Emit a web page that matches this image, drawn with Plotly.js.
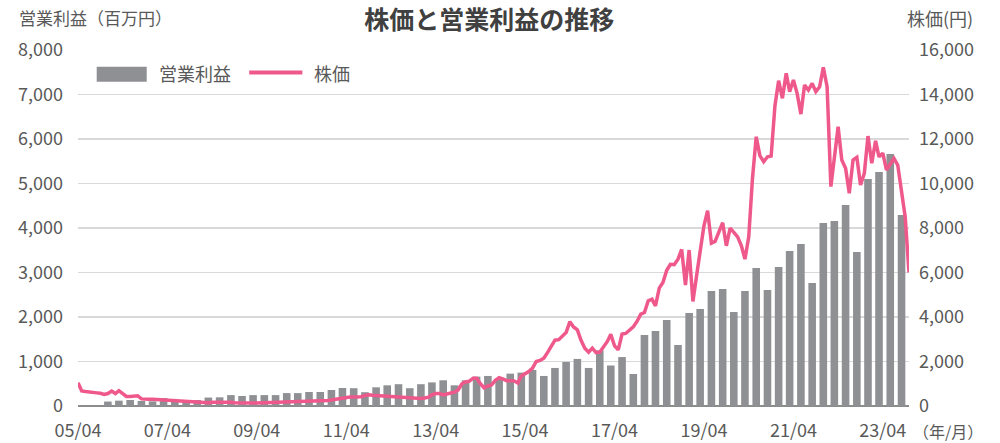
<!DOCTYPE html>
<html>
<head>
<meta charset="utf-8">
<script src="https://cdn.plot.ly/plotly-3.0.1.min.js"></script>
<style>
  html, body { margin: 0; padding: 0; background: #ffffff; }
  #chart { width: 1000px; height: 443px; }
</style>
</head>
<body>
<div id="chart"></div>
<script>
// ---- Data ----
// Quarterly operating profit (百万円), first quarter Dec 2005, last Sep 2023
const profitStart = [2005, 12];
const profitValues = [
  100, 120, 135, 112, 105, 180, 135, 120, 135, 190,
  195, 245, 225, 245, 245, 245, 290, 290, 315, 315,
  360, 405, 400, 310, 420, 465, 490, 400, 490, 530,
  578, 465, 578, 660, 675, 622, 727, 750, 810, 675,
  855, 990, 1058, 855, 1250, 910, 1100, 719, 1596, 1685,
  1933, 1371, 2090, 2180, 2584, 2629, 2112, 2584, 3101, 2607,
  3123, 3483, 3640, 2764, 4112, 4157, 4517, 3461, 5101, 5258,
  5663, 4292
];
// Monthly stock price (円), Apr 2005 .. Nov 2023
const priceStart = [2005, 4];
const priceValues = [
  1047, 674, 650, 640, 610, 590, 570, 520, 560, 674,
  560, 690, 560, 430, 430, 445, 460, 320, 300, 300,
  300, 290, 270, 250, 240, 225, 215, 205, 195, 190,
  180, 180, 170, 165, 160, 150, 170, 175, 180, 175,
  170, 165, 150, 140, 135, 140, 135, 130, 135, 140,
  145, 150, 150, 155, 165, 180, 190, 200, 210, 210,
  215, 220, 230, 225, 220, 230, 240, 250, 270, 300,
  340, 380, 390, 400, 400, 400, 420, 470, 500, 480,
  470, 460, 450, 440, 420, 400, 390, 390, 380, 370,
  350, 340, 340, 360, 400, 500, 560, 560, 500, 540,
  580, 620, 720, 1000, 1080, 1120, 1250, 1250, 1000, 820,
  900, 950, 1150, 1270, 1220, 1140, 1140, 1130, 1030, 1350,
  1450, 1550, 1700, 2000, 2050, 2150, 2400, 2700, 2960, 2980,
  3150, 3300, 3790, 3550, 3420, 2950, 2600, 2420, 2600, 2400,
  2420, 2660, 2900, 3220, 2700, 2520, 3230, 3260, 3420, 3560,
  3800, 4130, 4200, 4730, 4800, 4500, 5300, 5550, 6100, 6370,
  6350, 6600, 7040, 5440, 7010, 4700, 5900, 7000, 8100, 8780,
  7320, 7400, 7800, 8240, 7200, 7990, 7800, 7600, 7200, 6600,
  7600, 10200, 12100, 11250, 10980, 11200, 11230, 13500, 14620, 13830,
  14950, 14130, 14650, 14050, 13120, 14430, 14200, 14500, 14130, 14350,
  15220, 14350, 9860, 11060, 12550, 11060, 10680, 9560, 11060, 11180,
  9930, 10460, 12130, 10910, 11920, 11200, 11360, 10610, 10900, 11130,
  10830, 9700, 8500, 6000
];
const tickDates = ['2005-04-01','2007-04-01','2009-04-01','2011-04-01','2013-04-01',
                   '2015-04-01','2017-04-01','2019-04-01','2021-04-01','2023-04-01'];
const tickLabels = ['05/04','07/04','09/04','11/04','13/04','15/04','17/04','19/04','21/04','23/04'];
const seriesNames = ['営業利益', '株価'];

// ---- Build date categories ----
function monthDates(start, count, step) {
  const out = [];
  let y = start[0], m = start[1];
  for (let i = 0; i < count; i++) {
    out.push(y + '-' + String(m).padStart(2, '0') + '-01');
    m += step;
    while (m > 12) { m -= 12; y += 1; }
  }
  return out;
}
const profitDates = monthDates(profitStart, profitValues.length, 3);
const priceDates = monthDates(priceStart, priceValues.length, 1);

const FONT = '"Noto Sans CJK JP", "Noto Sans", sans-serif';
const TXT = '#595959';
const BAR = '#8f9094';
const LINE = '#ef588b';

const traces = [
  {
    type: 'bar', name: seriesNames[0], x: profitDates, y: profitValues,
    marker: { color: BAR }, width: 62 * 86400000, yaxis: 'y', hoverinfo: 'skip'
  },
  {
    type: 'scatter', mode: 'lines', name: seriesNames[1], x: priceDates, y: priceValues,
    line: { color: LINE, width: 3.5 }, yaxis: 'y2', hoverinfo: 'skip'
  }
];

const layout = {
  width: 1000, height: 443,
  margin: { l: 78, r: 91, t: 50, b: 37 },
  paper_bgcolor: '#ffffff', plot_bgcolor: '#ffffff',
  font: { family: FONT, size: 18, color: TXT },
  showlegend: false,
  title: {
    text: '<b>株価と営業利益の推移</b>',
    font: { family: FONT, size: 25, color: '#404040' },
    x: 0.495, xref: 'paper', xanchor: 'center',
    y: 1 - 20 / 443, yref: 'container', yanchor: 'middle'
  },
  xaxis: {
    type: 'date',
    range: ['2005-04-01', '2023-11-01'],
    tickmode: 'array', tickvals: tickDates, ticktext: tickLabels,
    showgrid: false, showline: false, ticks: '', zeroline: false,
    ticklabelstandoff: 12,
    tickfont: { family: FONT, size: 18, color: TXT }
  },
  yaxis: {
    range: [0, 8000], dtick: 1000, tick0: 0, tickformat: ',',
    showgrid: true, gridcolor: '#d9d9d9', gridwidth: 1.3,
    zeroline: true, zerolinecolor: '#8c8c8c', zerolinewidth: 1.5,
    showline: false, ticks: '', ticklabelstandoff: 14,
    tickfont: { family: FONT, size: 18, color: TXT }
  },
  yaxis2: {
    range: [0, 16000], dtick: 2000, tick0: 0, tickformat: ',',
    overlaying: 'y', side: 'right', showgrid: false, zeroline: false,
    showline: false, ticks: '', ticklabelstandoff: 9,
    tickfont: { family: FONT, size: 18, color: TXT }
  },
  shapes: [
    { type: 'rect', xref: 'paper', yref: 'paper', x0: 0.0225, x1: 0.0827, y0: 0.911, y1: 0.953,
      fillcolor: BAR, line: { width: 0 } },
    { type: 'line', xref: 'paper', yref: 'paper', x0: 0.206, x1: 0.270, y0: 0.937, y1: 0.937,
      line: { color: LINE, width: 4 } }
  ],
  annotations: [
    { text: '営業利益', xref: 'paper', yref: 'paper', x: 0.0945, y: 0.934,
      xanchor: 'left', yanchor: 'middle', showarrow: false,
      font: { family: FONT, size: 18, color: TXT } },
    { text: '株価', xref: 'paper', yref: 'paper', x: 0.281, y: 0.934,
      xanchor: 'left', yanchor: 'middle', showarrow: false,
      font: { family: FONT, size: 18, color: TXT } },
    { text: '営業利益（百万円）', xref: 'paper', yref: 'paper', x: -0.0734, y: 1.0899,
      xanchor: 'left', yanchor: 'middle', showarrow: false,
      font: { family: FONT, size: 17, color: TXT } },
    { text: '株価(円)', xref: 'paper', yref: 'paper', x: 1.079, y: 1.0899,
      xanchor: 'right', yanchor: 'middle', showarrow: false,
      font: { family: FONT, size: 18, color: TXT } },
    { text: '（年/月）', xref: 'paper', yref: 'paper', x: 1.0466, y: -0.0702,
      xanchor: 'center', yanchor: 'middle', showarrow: false,
      font: { family: FONT, size: 16, color: TXT } }
  ]
};

Plotly.newPlot('chart', traces, layout, { staticPlot: true, displayModeBar: false });
</script>
</body>
</html>
